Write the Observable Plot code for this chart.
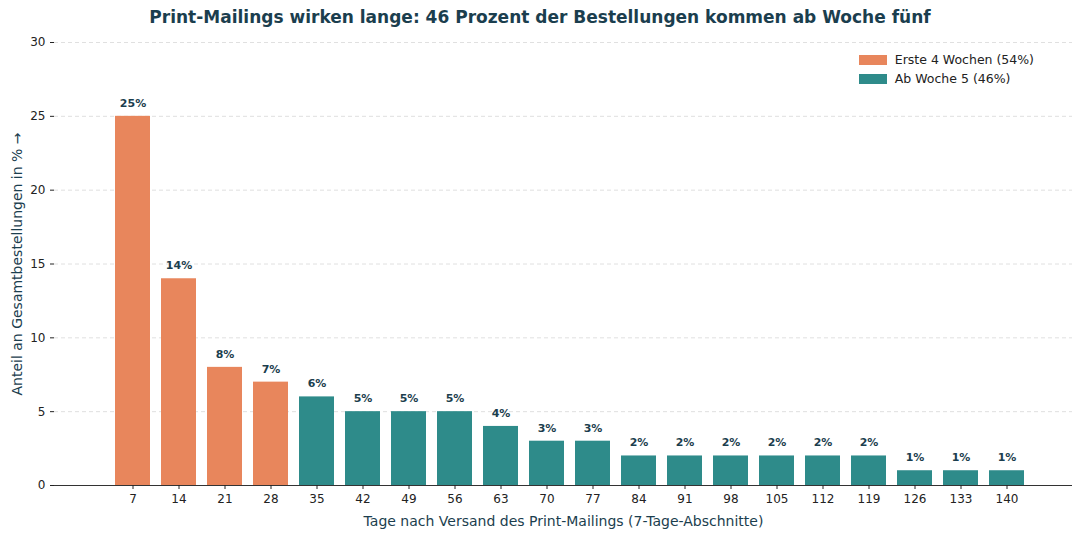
<!DOCTYPE html>
<html><head><meta charset="utf-8">
<script src="https://cdn.jsdelivr.net/npm/d3@7"></script>
<script src="https://cdn.jsdelivr.net/npm/@observablehq/plot@0.6"></script>
<style>
body{margin:0;background:#fff;font-family:"DejaVu Sans",sans-serif;}
#wrap{position:relative;width:1080px;height:536px;}
#title{height:34px;line-height:34px;text-align:center;font-weight:bold;font-size:17px;color:#1b3e4e;}
#legend{position:absolute;right:46px;top:50px;font-size:12.5px;color:#222;line-height:19px;}
.sw{display:inline-block;width:28px;height:10px;margin-right:8px;vertical-align:-1px;}
</style></head><body>
<div id="wrap">
<div id="title">Print-Mailings wirken lange: 46 Prozent der Bestellungen kommen ab Woche fünf</div>
<div id="chart"></div>
<div id="legend"><div><span class="sw" style="background:#E8865C"></span>Erste 4 Wochen (54%)</div><div><span class="sw" style="background:#2E8B8A"></span>Ab Woche 5 (46%)</div></div>
</div>
<script>
const days=[7,14,21,28,35,42,49,56,63,70,77,84,91,98,105,112,119,126,133,140];
const shares=[25,14,8,7,6,5,5,5,4,3,3,2,2,2,2,2,2,1,1,1];
const groups=days.map(d=>d<=28?"Erste 4 Wochen (54%)":"Ab Woche 5 (46%)");
const data=days.map((d,i)=>({day:String(d),v:shares[i],g:groups[i]}));
const p=Plot.plot({
 width:1080,height:502,marginLeft:54,marginRight:8,marginTop:8,marginBottom:51,
 style:{fontFamily:"DejaVu Sans",fontSize:"12px",color:"#222"},
 x:{domain:days.map(String),padding:0.23,insetLeft:42,insetRight:28,label:"Tage nach Versand des Print-Mailings (7-Tage-Abschnitte)",labelAnchor:"center",labelOffset:40,tickSize:4},
 y:{domain:[0,30],ticks:[0,5,10,15,20,25,30],label:"Anteil an Gesamtbestellungen in %",labelAnchor:"center",labelOffset:42,tickSize:4},
 color:{domain:["Erste 4 Wochen (54%)","Ab Woche 5 (46%)"],range:["#E8865C","#2E8B8A"]},
 marks:[
  Plot.gridY([5,10,15,20,25,30],{stroke:"#ccc",strokeDasharray:"4,3",strokeOpacity:0.6}),
  Plot.barY(data,{x:"day",y:"v",fill:"g"}),
  Plot.text(data,{x:"day",y:"v",text:d=>d.v+"%",dy:-13,fontWeight:"bold",fontSize:11,fill:"#1b3e4e"}),
  Plot.ruleY([0],{stroke:"#333"}),
  Plot.ruleX([0],{frameAnchor:"left",stroke:"#333"}),
  Plot.axisX({tickSize:4,label:"Tage nach Versand des Print-Mailings (7-Tage-Abschnitte)",labelAnchor:"center",labelOffset:40,fill:"#222"}),
  Plot.axisY({ticks:[0,5,10,15,20,25,30],tickSize:4,label:"Anteil an Gesamtbestellungen in %",labelAnchor:"center",labelOffset:42})
 ]
});
p.querySelectorAll('[aria-label="x-axis label"] text, [aria-label="y-axis label"] text').forEach(t=>{t.style.fontSize="14px";t.style.fill="#1b3e4e";});
document.getElementById("chart").append(p);
</script></body></html>
